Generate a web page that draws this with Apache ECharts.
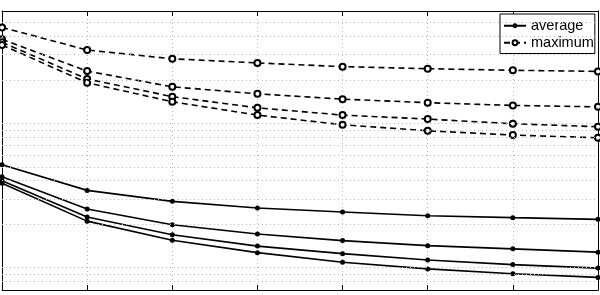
<!DOCTYPE html>
<html>
<head>
<meta charset="utf-8">
<script src="https://cdn.jsdelivr.net/npm/echarts@6/dist/echarts.min.js"></script>
<style>
html,body{margin:0;padding:0;background:#fff;}
#chart{width:600px;height:295px;}
</style>
</head>
<body>
<div id="chart"></div>
<script>
// ---- data ----
const categories = ['1', '2', '3', '4', '5', '6', '7', '8'];

const average1 = [51.6, 34.3, 28.8, 25.9, 24.3, 22.9, 22.2, 21.6];
const average2 = [42.6, 25.5, 19.8, 17.1, 15.4, 14.2, 13.5, 12.8];
const average3 = [40.0, 22.4, 16.9, 14.1, 12.5, 11.3, 10.5, 9.93];
const average4 = [38.4, 21.0, 15.5, 12.7, 10.9, 9.8, 9.07, 8.56];

const maximum1 = [462, 322, 280, 262, 247, 239, 233, 229];
const maximum2 = [382, 230, 179, 160, 147, 139, 133, 130];
const maximum3 = [364, 203, 153, 128, 114, 107, 99.3, 94.7];
const maximum4 = [349, 191, 141, 114, 97.7, 88.8, 82.9, 79.4];

const yMin = 7;
const yMax = 600;
const gridValues = [8, 9, 10, 20, 30, 40, 50, 60, 70, 80, 90, 100, 200, 300, 400, 500];

// ---- chart ----
const chart = echarts.init(document.getElementById('chart'), null, {renderer: 'canvas'});

function avgSeries(data, withGrid) {
  const s = {
    name: 'average', type: 'line', data: data,
    symbol: 'circle', symbolSize: 5,
    itemStyle: {color: '#000'},
    lineStyle: {color: '#000', width: 1.6, type: 'solid'},
    emphasis: {disabled: true},
    animation: false, z: 3
  };
  if (withGrid) {
    s.markLine = {
      silent: true, symbol: 'none', animation: false,
      label: {show: false},
      lineStyle: {color: '#b8b8b8', width: 1, type: [1, 3]},
      emphasis: {disabled: true},
      data: gridValues.map(v => ({yAxis: v}))
    };
  }
  return s;
}
function maxSeries(data) {
  return {
    name: 'maximum', type: 'line', data: data,
    symbol: 'emptyCircle', symbolSize: 6,
    itemStyle: {color: '#000', borderWidth: 1.5, borderColor: '#000'},
    lineStyle: {color: '#000', width: 1.6, type: [6, 4]},
    emphasis: {disabled: true},
    animation: false, z: 3
  };
}

const xAxisCommon = {
  type: 'category', data: categories, boundaryGap: false,
  axisLine: {show: true, lineStyle: {color: '#000', width: 1}},
  axisTick: {show: true, inside: true, length: 5, lineStyle: {color: '#000'}},
  axisLabel: {show: false}
};
const yAxisCommon = {
  type: 'log', logBase: 10, min: yMin, max: yMax,
  axisLine: {show: true, lineStyle: {color: '#000', width: 1}},
  axisTick: {show: false},
  axisLabel: {show: false},
  splitLine: {show: false}
};

chart.setOption({
  animation: false,
  backgroundColor: '#fff',
  grid: {left: 2, right: 2, top: 11, bottom: 5, containLabel: false},
  legend: {
    orient: 'vertical', left: 500, top: 14,
    backgroundColor: '#fff', borderColor: '#000', borderWidth: 1,
    padding: [4, 1, 3, 3], itemGap: 1.5,
    itemWidth: 22, itemHeight: 6,
    textStyle: {fontFamily: 'Liberation Sans, Arial, sans-serif', fontSize: 14.5, color: '#000', lineHeight: 15.5},
    data: ['average', 'maximum'],
    selectedMode: false
  },
  xAxis: [
    Object.assign({}, xAxisCommon, {position: 'bottom',
      splitLine: {show: true, lineStyle: {color: '#b8b8b8', width: 1, type: [1, 3]}}}),
    Object.assign({}, xAxisCommon, {position: 'top', splitLine: {show: false}})
  ],
  yAxis: [
    Object.assign({}, yAxisCommon, {position: 'left'}),
    Object.assign({}, yAxisCommon, {position: 'right'})
  ],
  series: [
    avgSeries(average1, true),
    avgSeries(average2, false),
    avgSeries(average3, false),
    avgSeries(average4, false),
    maxSeries(maximum1),
    maxSeries(maximum2),
    maxSeries(maximum3),
    maxSeries(maximum4)
  ]
});
</script>
</body>
</html>
